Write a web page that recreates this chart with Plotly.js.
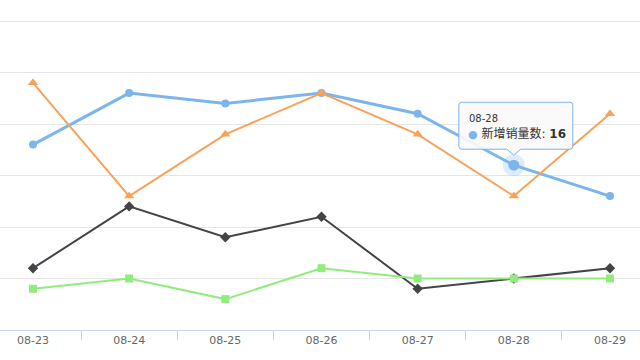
<!DOCTYPE html>
<html><head><meta charset="utf-8">
<script src="https://cdn.plot.ly/plotly-3.0.1.min.js"></script>
<style>html,body{margin:0;padding:0;background:#fff}#c{width:640px;height:360px}</style>
</head><body><div id="c"></div>
<script>
const dates = ['08-23','08-24','08-25','08-26','08-27','08-28','08-29'];
const newSales = [18, 23, 22, 23, 21, 16, 13];
const series2 = [6, 12, 9, 11, 4, 5, 6];
const series3 = [4, 5, 3, 6, 5, 5, 5];
const series4 = [24, 13, 19, 23, 19, 13, 21];
const seriesNames = ['新增销量数', '系列2', '系列3', '系列4'];
const hoverIndex = 5;

const font = 'DejaVu Sans, Verdana, sans-serif';
const traces = [
  {x: dates, y: newSales, name: seriesNames[0], mode: 'lines+markers',
   line: {color: '#7cb5ec', width: 3}, marker: {symbol: 'circle', size: 8, color: '#7cb5ec'}},
  {x: [dates[hoverIndex]], y: [newSales[hoverIndex]], mode: 'markers', hoverinfo: 'skip', showlegend: false,
   marker: {size: 22, color: 'rgba(124,181,236,0.25)'}},
  {x: dates, y: series2, name: seriesNames[1], mode: 'lines+markers',
   line: {color: '#434348', width: 2}, marker: {symbol: 'diamond', size: 8, color: '#434348'}},
  {x: dates, y: series3, name: seriesNames[2], mode: 'lines+markers',
   line: {color: '#90ed7d', width: 2}, marker: {symbol: 'square', size: 8, color: '#90ed7d'}},
  {x: dates, y: series4, name: seriesNames[3], mode: 'lines+markers',
   line: {color: '#f7a35c', width: 2}, marker: {symbol: 'triangle-up', size: 9, color: '#f7a35c'}},
  {x: [dates[hoverIndex]], y: [newSales[hoverIndex]], mode: 'markers', hoverinfo: 'skip', showlegend: false,
   marker: {size: 11, color: '#7cb5ec'}}
];

const layout = {
  width: 640, height: 360,
  margin: {l: 0, r: 0, t: 20, b: 30, pad: 0},
  paper_bgcolor: '#fff', plot_bgcolor: '#fff',
  showlegend: false,
  font: {family: font, color: '#666', size: 11},
  xaxis: {
    type: 'category', categoryorder: 'array', categoryarray: dates,
    range: [-0.343, 6.312], tickson: 'boundaries',
    showgrid: false, zeroline: false, showline: true, linecolor: '#ccd6eb', linewidth: 1,
    ticks: 'outside', ticklen: 9, tickcolor: '#ccd6eb', tickwidth: 1,
    tickfont: {family: font, color: '#666', size: 11}
  },
  yaxis: {
    range: [0, 30.1], tick0: 0, dtick: 5, showticklabels: false, showgrid: true, gridcolor: '#e6e6e6',
    zeroline: false, showline: false, fixedrange: true
  },
  shapes: [{
    type: 'path', xref: 'x', yref: 'y', xsizemode: 'pixel', ysizemode: 'pixel',
    xanchor: hoverIndex, yanchor: newSales[hoverIndex],
    path: 'M -52 16 L -7 16 L 0 10 L 7 16 L 56 16 Q 59 16 59 19 L 59 60 Q 59 63 56 63 L -52 63 Q -55 63 -55 60 L -55 19 Q -55 16 -52 16 Z',
    fillcolor: 'rgba(250,250,250,0.92)', line: {color: '#7cb5ec', width: 1}, layer: 'above'
  }],
  annotations: [
    {x: hoverIndex, y: newSales[hoverIndex], xref: 'x', yref: 'y', showarrow: false,
     xanchor: 'left', yanchor: 'middle', xshift: -47, yshift: 47,
     text: dates[hoverIndex], font: {family: font, size: 10, color: '#333'}},
    {x: hoverIndex, y: newSales[hoverIndex], xref: 'x', yref: 'y', showarrow: false,
     xanchor: 'left', yanchor: 'middle', xshift: -48, yshift: 32,
     text: '<span style="color:#7cb5ec;font-size:11px">●</span> ' + seriesNames[0] + ': <b>' + newSales[hoverIndex] + '</b>',
     font: {family: 'DejaVu Sans, Noto Sans CJK SC, sans-serif', size: 12, color: '#333'}}
  ]
};
Plotly.newPlot('c', traces, layout, {displayModeBar: false, staticPlot: true});
</script></body></html>
